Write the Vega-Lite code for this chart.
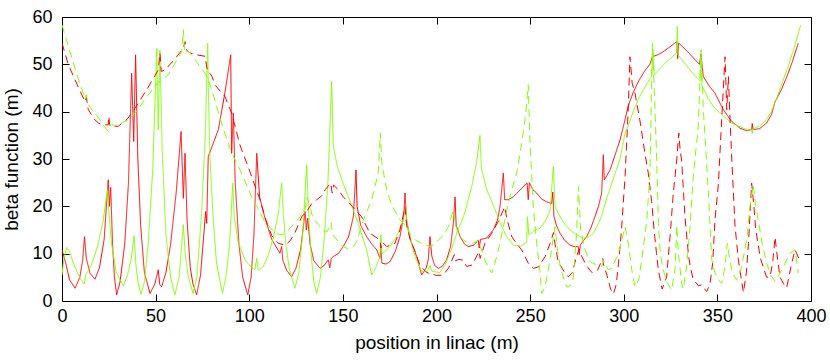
{
"$schema": "https://vega.github.io/schema/vega-lite/v6.json",
"width": 749, "height": 284,
"autosize": {"type": "none"},
"padding": {"left": 62, "top": 17, "right": 19, "bottom": 62},
"background": "white",
"config": {
  "font": "Liberation Sans",
  "view": {"stroke": "#000000", "strokeWidth": 1},
  "axis": {"grid": false, "domain": false, "tickColor": "#000000", "tickWidth": 1, "labelColor": "#000000", "titleColor": "#000000", "labelFontSize": 18, "titleFontSize": 19, "titleFontWeight": "normal", "labelFlush": false, "labelOverlap": false}
},
"data": {"values": [
{"s":"rs","x":0,"y":10.8},{"s":"rs","x":2,"y":8},{"s":"rs","x":4,"y":4.5},{"s":"rs","x":7,"y":2.7},{"s":"rs","x":9.5,"y":5},{"s":"rs","x":11,"y":8.5},{"s":"rs","x":12,"y":13.6},{"s":"rs","x":13,"y":9},{"s":"rs","x":15,"y":5.8},{"s":"rs","x":17.6,"y":4.6},{"s":"rs","x":20,"y":7},{"s":"rs","x":22.5,"y":13},{"s":"rs","x":24.7,"y":25.6},{"s":"rs","x":25.3,"y":20},{"s":"rs","x":26,"y":24},{"s":"rs","x":27,"y":12},{"s":"rs","x":28,"y":5},{"s":"rs","x":29.2,"y":1.3},{"s":"rs","x":31,"y":4},{"s":"rs","x":33.5,"y":12},{"s":"rs","x":35.5,"y":25},{"s":"rs","x":37.2,"y":48.1},{"s":"rs","x":38.3,"y":33.7},{"s":"rs","x":39.3,"y":52},{"s":"rs","x":40.5,"y":30},{"s":"rs","x":42,"y":16},{"s":"rs","x":44,"y":6},{"s":"rs","x":47,"y":1.6},{"s":"rs","x":49.5,"y":3.5},{"s":"rs","x":51.4,"y":6.6},{"s":"rs","x":52.2,"y":3.5},{"s":"rs","x":53.2,"y":3},{"s":"rs","x":55.5,"y":6},{"s":"rs","x":58,"y":12},{"s":"rs","x":61,"y":23},{"s":"rs","x":63.6,"y":35.8},{"s":"rs","x":64.8,"y":21.7},{"s":"rs","x":65.7,"y":31.2},{"s":"rs","x":66.8,"y":17},{"s":"rs","x":68.5,"y":7},{"s":"rs","x":70,"y":3.5},{"s":"rs","x":71.9,"y":1.3},{"s":"rs","x":74,"y":5.5},{"s":"rs","x":76.7,"y":18.9},{"s":"rs","x":77.3,"y":16.4},{"s":"rs","x":78.1,"y":30.5},{"s":"rs","x":83.5,"y":36.2},{"s":"rs","x":87,"y":44},{"s":"rs","x":90.1,"y":52},{"s":"rs","x":90.6,"y":31.2},{"s":"rs","x":91.5,"y":39.7},{"s":"rs","x":92.5,"y":25},{"s":"rs","x":94.5,"y":12},{"s":"rs","x":96.5,"y":5},{"s":"rs","x":99.2,"y":1.3},{"s":"rs","x":101,"y":5},{"s":"rs","x":102.5,"y":14},{"s":"rs","x":104,"y":31.2},{"s":"rs","x":105.5,"y":22},{"s":"rs","x":108.4,"y":17.5},{"s":"rs","x":112,"y":13},{"s":"rs","x":116.4,"y":10.1},{"s":"rs","x":117.3,"y":11.5},{"s":"rs","x":118,"y":8.5},{"s":"rs","x":120,"y":6.5},{"s":"rs","x":122.6,"y":5.1},{"s":"rs","x":125,"y":7},{"s":"rs","x":127.5,"y":11},{"s":"rs","x":129.8,"y":18.9},{"s":"rs","x":130.5,"y":15},{"s":"rs","x":131.2,"y":17.5},{"s":"rs","x":132.5,"y":12},{"s":"rs","x":134.5,"y":8.5},{"s":"rs","x":137.8,"y":6.9},{"s":"rs","x":140,"y":7.5},{"s":"rs","x":142.2,"y":8.7},{"s":"rs","x":143,"y":7},{"s":"rs","x":143.8,"y":9},{"s":"rs","x":144.9,"y":9.4},{"s":"rs","x":147.5,"y":10},{"s":"rs","x":150.2,"y":11.5},{"s":"rs","x":153,"y":13.5},{"s":"rs","x":155.6,"y":17.8},{"s":"rs","x":157,"y":27.7},{"s":"rs","x":157.6,"y":20},{"s":"rs","x":159.5,"y":16},{"s":"rs","x":162.7,"y":13.6},{"s":"rs","x":165.5,"y":12},{"s":"rs","x":168.1,"y":10.8},{"s":"rs","x":169.8,"y":9},{"s":"rs","x":170.3,"y":11.5},{"s":"rs","x":170.8,"y":8},{"s":"rs","x":173,"y":7.8},{"s":"rs","x":175.2,"y":8.3},{"s":"rs","x":178,"y":10.5},{"s":"rs","x":180.5,"y":13.6},{"s":"rs","x":182.5,"y":18},{"s":"rs","x":183.2,"y":22.8},{"s":"rs","x":184,"y":17},{"s":"rs","x":186,"y":13},{"s":"rs","x":189.4,"y":9.4},{"s":"rs","x":192.1,"y":5.5},{"s":"rs","x":194.5,"y":7},{"s":"rs","x":195.6,"y":8.7},{"s":"rs","x":196.5,"y":13.6},{"s":"rs","x":197.5,"y":9.5},{"s":"rs","x":199,"y":7.5},{"s":"rs","x":201,"y":6.9},{"s":"rs","x":203,"y":7.3},{"s":"rs","x":205.4,"y":8.7},{"s":"rs","x":207.5,"y":11.5},{"s":"rs","x":209,"y":16.4},{"s":"rs","x":209.9,"y":22},{"s":"rs","x":210.5,"y":16},{"s":"rs","x":212.6,"y":13.6},{"s":"rs","x":215,"y":12},{"s":"rs","x":217,"y":11.5},{"s":"rs","x":220,"y":11.8},{"s":"rs","x":222.3,"y":12.9},{"s":"rs","x":222.8,"y":11.2},{"s":"rs","x":223.5,"y":13},{"s":"rs","x":226.8,"y":13.3},{"s":"rs","x":230.3,"y":15},{"s":"rs","x":232.5,"y":17},{"s":"rs","x":233.9,"y":19.9},{"s":"rs","x":235.7,"y":27},{"s":"rs","x":236.4,"y":21.4},{"s":"rs","x":238.5,"y":21.4},{"s":"rs","x":241,"y":22},{"s":"rs","x":244,"y":23.2},{"s":"rs","x":246.4,"y":24.2},{"s":"rs","x":248.4,"y":24.9},{"s":"rs","x":249,"y":21.4},{"s":"rs","x":249.6,"y":25},{"s":"rs","x":251.5,"y":23.5},{"s":"rs","x":253.5,"y":22.8},{"s":"rs","x":256,"y":21.6},{"s":"rs","x":258.5,"y":21},{"s":"rs","x":261.5,"y":20.6},{"s":"rs","x":262.1,"y":23},{"s":"rs","x":262.7,"y":18},{"s":"rs","x":264,"y":16},{"s":"rs","x":266,"y":14.3},{"s":"rs","x":268.5,"y":12.8},{"s":"rs","x":271.3,"y":11.8},{"s":"rs","x":273.5,"y":11.5},{"s":"rs","x":275.7,"y":11.5},{"s":"rs","x":276.2,"y":9.8},{"s":"rs","x":276.8,"y":11.8},{"s":"rs","x":278,"y":12.5},{"s":"rs","x":280.2,"y":13.6},{"s":"rs","x":282.5,"y":15.5},{"s":"rs","x":284.6,"y":17.8},{"s":"rs","x":286.5,"y":20},{"s":"rs","x":288.2,"y":22.8},{"s":"rs","x":289.1,"y":30.9},{"s":"rs","x":289.6,"y":25.6},{"s":"rs","x":291,"y":26.5},{"s":"rs","x":292.7,"y":27.7},{"s":"rs","x":295.5,"y":31},{"s":"rs","x":298,"y":34},{"s":"rs","x":300,"y":37.2},{"s":"rs","x":302.4,"y":41.2},{"s":"rs","x":305,"y":44},{"s":"rs","x":308,"y":46.5},{"s":"rs","x":311,"y":48.5},{"s":"rs","x":314,"y":50},{"s":"rs","x":315.3,"y":51.6},{"s":"rs","x":318,"y":52},{"s":"rs","x":320.5,"y":52.5},{"s":"rs","x":324,"y":53.5},{"s":"rs","x":328.3,"y":54.8},{"s":"rs","x":328.8,"y":51.2},{"s":"rs","x":329.3,"y":54.5},{"s":"rs","x":332,"y":53.5},{"s":"rs","x":335,"y":52.3},{"s":"rs","x":338,"y":51},{"s":"rs","x":340.5,"y":50},{"s":"rs","x":341.2,"y":52.2},{"s":"rs","x":342.5,"y":47.4},{"s":"rs","x":345.5,"y":45.5},{"s":"rs","x":348.7,"y":43.9},{"s":"rs","x":353.2,"y":40.4},{"s":"rs","x":357.5,"y":38},{"s":"rs","x":362.1,"y":36.5},{"s":"rs","x":365.5,"y":36},{"s":"rs","x":368.3,"y":36.2},{"s":"rs","x":368.6,"y":37.5},{"s":"rs","x":369.1,"y":36.2},{"s":"rs","x":372.5,"y":36.4},{"s":"rs","x":376.3,"y":37.6},{"s":"rs","x":379,"y":39.5},{"s":"rs","x":380.8,"y":42.1},{"s":"rs","x":381.5,"y":42.6},{"s":"rs","x":384,"y":44.5},{"s":"rs","x":387,"y":47.3},{"s":"rs","x":390,"y":50.5},{"s":"rs","x":393.2,"y":54.5},
{"s":"gs","x":0,"y":5.5},{"s":"gs","x":1,"y":9},{"s":"gs","x":2.5,"y":11.3},{"s":"gs","x":4,"y":10.5},{"s":"gs","x":6,"y":8},{"s":"gs","x":9.6,"y":4.8},{"s":"gs","x":11.9,"y":3.6},{"s":"gs","x":12.6,"y":5.5},{"s":"gs","x":13.2,"y":5.8},{"s":"gs","x":16,"y":8},{"s":"gs","x":19,"y":11.5},{"s":"gs","x":22,"y":17},{"s":"gs","x":24.2,"y":23.5},{"s":"gs","x":25,"y":19},{"s":"gs","x":26.5,"y":12},{"s":"gs","x":29,"y":6},{"s":"gs","x":32.8,"y":3.2},{"s":"gs","x":35,"y":5.5},{"s":"gs","x":37,"y":9},{"s":"gs","x":38.5,"y":13.8},{"s":"gs","x":39.5,"y":7.5},{"s":"gs","x":40.8,"y":3.5},{"s":"gs","x":42.2,"y":1.4},{"s":"gs","x":44,"y":4},{"s":"gs","x":46,"y":12},{"s":"gs","x":48.5,"y":28},{"s":"gs","x":50.6,"y":53.4},{"s":"gs","x":51.4,"y":36.2},{"s":"gs","x":52.3,"y":53},{"s":"gs","x":53.5,"y":32},{"s":"gs","x":55.5,"y":14},{"s":"gs","x":58,"y":5},{"s":"gs","x":60.3,"y":1.3},{"s":"gs","x":62.5,"y":5},{"s":"gs","x":64.8,"y":16.1},{"s":"gs","x":65.8,"y":10},{"s":"gs","x":67.5,"y":5},{"s":"gs","x":70,"y":1.6},{"s":"gs","x":72,"y":5},{"s":"gs","x":74.5,"y":18},{"s":"gs","x":76.5,"y":35},{"s":"gs","x":77.8,"y":54.5},{"s":"gs","x":78.3,"y":42},{"s":"gs","x":79,"y":30.5},{"s":"gs","x":80.5,"y":19},{"s":"gs","x":82.5,"y":8},{"s":"gs","x":85.7,"y":1.6},{"s":"gs","x":87.5,"y":5},{"s":"gs","x":89.5,"y":12},{"s":"gs","x":91.2,"y":24.9},{"s":"gs","x":92,"y":18},{"s":"gs","x":94,"y":12.5},{"s":"gs","x":97.7,"y":8.7},{"s":"gs","x":100.5,"y":7.4},{"s":"gs","x":103,"y":6.6},{"s":"gs","x":104,"y":9},{"s":"gs","x":104.8,"y":6.5},{"s":"gs","x":107.5,"y":7.3},{"s":"gs","x":110,"y":9.5},{"s":"gs","x":113,"y":13.5},{"s":"gs","x":115.5,"y":18.5},{"s":"gs","x":117.3,"y":24.9},{"s":"gs","x":118.3,"y":18},{"s":"gs","x":119.5,"y":12},{"s":"gs","x":121.5,"y":6.5},{"s":"gs","x":124.4,"y":2.7},{"s":"gs","x":126.5,"y":6},{"s":"gs","x":128.5,"y":14},{"s":"gs","x":130.7,"y":28.8},{"s":"gs","x":131.5,"y":20},{"s":"gs","x":133,"y":10},{"s":"gs","x":134.5,"y":4},{"s":"gs","x":136,"y":1.6},{"s":"gs","x":138,"y":5},{"s":"gs","x":140,"y":13},{"s":"gs","x":142,"y":25},{"s":"gs","x":144,"y":46.4},{"s":"gs","x":144.9,"y":32.6},{"s":"gs","x":147,"y":28.5},{"s":"gs","x":150,"y":25},{"s":"gs","x":152.9,"y":22},{"s":"gs","x":155.6,"y":19.2},{"s":"gs","x":158.2,"y":16.4},{"s":"gs","x":160.5,"y":13.5},{"s":"gs","x":162.7,"y":10.8},{"s":"gs","x":165.4,"y":5.5},{"s":"gs","x":167.5,"y":7},{"s":"gs","x":169.8,"y":9.4},{"s":"gs","x":170.3,"y":14},{"s":"gs","x":170.9,"y":10},{"s":"gs","x":173.4,"y":10.8},{"s":"gs","x":176,"y":12},{"s":"gs","x":178.7,"y":13.6},{"s":"gs","x":181.5,"y":16.5},{"s":"gs","x":183.5,"y":19.8},{"s":"gs","x":184.5,"y":16},{"s":"gs","x":186.5,"y":12.5},{"s":"gs","x":188.5,"y":9.4},{"s":"gs","x":192.1,"y":6.2},{"s":"gs","x":195,"y":6.2},{"s":"gs","x":196.5,"y":7.5},{"s":"gs","x":197.5,"y":6.3},{"s":"gs","x":199,"y":6.2},{"s":"gs","x":201.9,"y":6},{"s":"gs","x":205,"y":8},{"s":"gs","x":208,"y":11},{"s":"gs","x":211,"y":14.5},{"s":"gs","x":215,"y":18.5},{"s":"gs","x":219,"y":24.5},{"s":"gs","x":221.5,"y":29.5},{"s":"gs","x":223.2,"y":35},{"s":"gs","x":224,"y":28},{"s":"gs","x":226.8,"y":23.5},{"s":"gs","x":229.5,"y":21},{"s":"gs","x":232.1,"y":18.5},{"s":"gs","x":234.5,"y":16},{"s":"gs","x":237.5,"y":13.6},{"s":"gs","x":241,"y":11.8},{"s":"gs","x":245,"y":11.6},{"s":"gs","x":248.1,"y":12.4},{"s":"gs","x":248.6,"y":17.8},{"s":"gs","x":249.3,"y":14},{"s":"gs","x":252,"y":14.8},{"s":"gs","x":255.3,"y":15.4},{"s":"gs","x":258,"y":16.8},{"s":"gs","x":260.6,"y":19},{"s":"gs","x":262.4,"y":28.4},{"s":"gs","x":263.3,"y":19.9},{"s":"gs","x":266,"y":17.8},{"s":"gs","x":268.5,"y":16.3},{"s":"gs","x":271.3,"y":15},{"s":"gs","x":274.8,"y":14},{"s":"gs","x":278.4,"y":13.3},{"s":"gs","x":281,"y":13.5},{"s":"gs","x":283.7,"y":14.3},{"s":"gs","x":286,"y":16},{"s":"gs","x":288.2,"y":18},{"s":"gs","x":290.9,"y":21.7},{"s":"gs","x":295,"y":26.5},{"s":"gs","x":298,"y":30},{"s":"gs","x":300.7,"y":35.5},{"s":"gs","x":302.4,"y":37},{"s":"gs","x":305,"y":40},{"s":"gs","x":308,"y":42.8},{"s":"gs","x":311,"y":45},{"s":"gs","x":314.9,"y":47.5},{"s":"gs","x":315.6,"y":53},{"s":"gs","x":316.3,"y":47.8},{"s":"gs","x":319,"y":49},{"s":"gs","x":322,"y":50.2},{"s":"gs","x":325,"y":51.3},{"s":"gs","x":328.2,"y":52.4},{"s":"gs","x":328.6,"y":58},{"s":"gs","x":329,"y":52},{"s":"gs","x":332,"y":50.5},{"s":"gs","x":335,"y":49},{"s":"gs","x":338,"y":47.6},{"s":"gs","x":340.7,"y":46.5},{"s":"gs","x":341.2,"y":52},{"s":"gs","x":341.8,"y":45.5},{"s":"gs","x":345,"y":42.8},{"s":"gs","x":348.7,"y":40.7},{"s":"gs","x":353.2,"y":39.1},{"s":"gs","x":357.5,"y":37.6},{"s":"gs","x":362.1,"y":36.8},{"s":"gs","x":366,"y":36.2},{"s":"gs","x":368.3,"y":36.3},{"s":"gs","x":368.6,"y":35.4},{"s":"gs","x":369,"y":36.3},{"s":"gs","x":372.5,"y":37},{"s":"gs","x":376.3,"y":38.3},{"s":"gs","x":379,"y":40.2},{"s":"gs","x":381.7,"y":42.9},{"s":"gs","x":382.3,"y":43.5},{"s":"gs","x":385,"y":46.5},{"s":"gs","x":388,"y":49.8},{"s":"gs","x":391,"y":53.5},{"s":"gs","x":394.5,"y":58.3},
{"s":"rd","x":0,"y":54.5},{"s":"rd","x":3.4,"y":49.9},{"s":"rd","x":8,"y":45.8},{"s":"rd","x":12.3,"y":42.1},{"s":"rd","x":13,"y":43},{"s":"rd","x":14,"y":40.5},{"s":"rd","x":17,"y":38.5},{"s":"rd","x":19.4,"y":37.6},{"s":"rd","x":22,"y":37.2},{"s":"rd","x":24.7,"y":37.2},{"s":"rd","x":25,"y":39},{"s":"rd","x":25.5,"y":37},{"s":"rd","x":30,"y":36.9},{"s":"rd","x":35,"y":38.5},{"s":"rd","x":39,"y":40.7},{"s":"rd","x":45,"y":44.5},{"s":"rd","x":51.4,"y":48.8},{"s":"rd","x":52.3,"y":52.4},{"s":"rd","x":53,"y":48.5},{"s":"rd","x":55,"y":48.8},{"s":"rd","x":60,"y":51},{"s":"rd","x":64.8,"y":53.4},{"s":"rd","x":65.7,"y":54.8},{"s":"rd","x":66.5,"y":53},{"s":"rd","x":68.4,"y":52.4},{"s":"rd","x":72,"y":52},{"s":"rd","x":76.4,"y":51.7},{"s":"rd","x":77.5,"y":49},{"s":"rd","x":80,"y":47.5},{"s":"rd","x":82,"y":45.5},{"s":"rd","x":87,"y":43.2},{"s":"rd","x":90.6,"y":39.7},{"s":"rd","x":95,"y":33},{"s":"rd","x":101.3,"y":26.3},{"s":"rd","x":105.7,"y":21.4},{"s":"rd","x":109,"y":17},{"s":"rd","x":112,"y":13.8},{"s":"rd","x":115.5,"y":12.2},{"s":"rd","x":119.1,"y":11.8},{"s":"rd","x":122,"y":12.8},{"s":"rd","x":124.5,"y":14.5},{"s":"rd","x":128,"y":17.8},{"s":"rd","x":130.7,"y":18.9},{"s":"rd","x":133.4,"y":20.6},{"s":"rd","x":136,"y":21.4},{"s":"rd","x":138.7,"y":22.2},{"s":"rd","x":140.5,"y":23.5},{"s":"rd","x":143.5,"y":24.9},{"s":"rd","x":144.3,"y":22.8},{"s":"rd","x":145,"y":24.5},{"s":"rd","x":147.6,"y":23.5},{"s":"rd","x":150.2,"y":22},{"s":"rd","x":155,"y":20},{"s":"rd","x":160,"y":17.8},{"s":"rd","x":164.5,"y":14.3},{"s":"rd","x":169.8,"y":12.9},{"s":"rd","x":170.3,"y":11.2},{"s":"rd","x":171,"y":12.5},{"s":"rd","x":173.4,"y":11.5},{"s":"rd","x":177.8,"y":12.2},{"s":"rd","x":180.5,"y":15},{"s":"rd","x":183.2,"y":19.9},{"s":"rd","x":184,"y":16},{"s":"rd","x":186,"y":13},{"s":"rd","x":188.5,"y":10.5},{"s":"rd","x":191.2,"y":7.5},{"s":"rd","x":194.8,"y":6},{"s":"rd","x":196.5,"y":5.8},{"s":"rd","x":200,"y":5.4},{"s":"rd","x":203.6,"y":5.5},{"s":"rd","x":206.5,"y":7},{"s":"rd","x":209.5,"y":9.8},{"s":"rd","x":210.2,"y":8.5},{"s":"rd","x":212,"y":8.8},{"s":"rd","x":214.3,"y":8.6},{"s":"rd","x":216.1,"y":7.3},{"s":"rd","x":219,"y":7.6},{"s":"rd","x":222.8,"y":10.5},{"s":"rd","x":223.3,"y":9},{"s":"rd","x":225.9,"y":12.2},{"s":"rd","x":229.5,"y":14.3},{"s":"rd","x":233,"y":16.8},{"s":"rd","x":236.4,"y":19.9},{"s":"rd","x":237.5,"y":17.5},{"s":"rd","x":240.2,"y":13.6},{"s":"rd","x":243,"y":12},{"s":"rd","x":245.5,"y":10.8},{"s":"rd","x":249,"y":8},{"s":"rd","x":251.7,"y":6.9},{"s":"rd","x":254.5,"y":7.2},{"s":"rd","x":258,"y":9.4},{"s":"rd","x":261,"y":12.5},{"s":"rd","x":262.5,"y":14.5},{"s":"rd","x":263.3,"y":12},{"s":"rd","x":265,"y":8.3},{"s":"rd","x":268.6,"y":5.9},{"s":"rd","x":270.4,"y":5.1},{"s":"rd","x":272.5,"y":6},{"s":"rd","x":274.8,"y":9.4},{"s":"rd","x":276.2,"y":11},{"s":"rd","x":277.5,"y":9.5},{"s":"rd","x":280,"y":7.5},{"s":"rd","x":283,"y":6},{"s":"rd","x":286,"y":6.5},{"s":"rd","x":288.8,"y":9},{"s":"rd","x":289.3,"y":7.5},{"s":"rd","x":291,"y":5.5},{"s":"rd","x":293,"y":2.5},{"s":"rd","x":294.5,"y":1.5},{"s":"rd","x":296,"y":3.5},{"s":"rd","x":297.2,"y":8},{"s":"rd","x":298.8,"y":15},{"s":"rd","x":300.7,"y":26.3},{"s":"rd","x":302.4,"y":40.4},{"s":"rd","x":303.3,"y":51.6},{"s":"rd","x":304.5,"y":46},{"s":"rd","x":306,"y":43.9},{"s":"rd","x":308.7,"y":38},{"s":"rd","x":311.3,"y":31.2},{"s":"rd","x":313.1,"y":27},{"s":"rd","x":314.9,"y":21},{"s":"rd","x":316.2,"y":15},{"s":"rd","x":317.5,"y":10},{"s":"rd","x":318.5,"y":6.5},{"s":"rd","x":320.5,"y":2.5},{"s":"rd","x":322.9,"y":5.1},{"s":"rd","x":324.8,"y":14},{"s":"rd","x":326.5,"y":23},{"s":"rd","x":328.3,"y":29.8},{"s":"rd","x":329.4,"y":35.5},{"s":"rd","x":330.2,"y":31.5},{"s":"rd","x":330.9,"y":29.8},{"s":"rd","x":332.7,"y":17.8},{"s":"rd","x":334.5,"y":10},{"s":"rd","x":335.4,"y":7.5},{"s":"rd","x":337.1,"y":4.5},{"s":"rd","x":340,"y":3.2},{"s":"rd","x":341.5,"y":3.4},{"s":"rd","x":344.3,"y":2},{"s":"rd","x":346,"y":3.5},{"s":"rd","x":347.5,"y":8},{"s":"rd","x":348.7,"y":17},{"s":"rd","x":350.5,"y":24.5},{"s":"rd","x":351.4,"y":31.5},{"s":"rd","x":353.2,"y":45},{"s":"rd","x":354.1,"y":51.6},{"s":"rd","x":355,"y":40.4},{"s":"rd","x":355.9,"y":47.4},{"s":"rd","x":356.8,"y":38},{"s":"rd","x":357.7,"y":30},{"s":"rd","x":359.4,"y":16},{"s":"rd","x":361.2,"y":8.7},{"s":"rd","x":363.9,"y":1.8},{"s":"rd","x":365.5,"y":6},{"s":"rd","x":366.6,"y":12.2},{"s":"rd","x":368.3,"y":24.9},{"s":"rd","x":369.5,"y":20},{"s":"rd","x":370.5,"y":15},{"s":"rd","x":373,"y":9},{"s":"rd","x":376.3,"y":5},{"s":"rd","x":378.1,"y":5.1},{"s":"rd","x":379.5,"y":8},{"s":"rd","x":380.8,"y":13.5},{"s":"rd","x":381.5,"y":11},{"s":"rd","x":383.4,"y":5.1},{"s":"rd","x":385.5,"y":3.5},{"s":"rd","x":387,"y":2.8},{"s":"rd","x":389.7,"y":8},{"s":"rd","x":391.5,"y":10.8},{"s":"rd","x":393.5,"y":9},
{"s":"gd","x":0,"y":58.3},{"s":"gd","x":3.4,"y":53.8},{"s":"gd","x":8,"y":47.8},{"s":"gd","x":12.3,"y":42.8},{"s":"gd","x":13,"y":43.6},{"s":"gd","x":14,"y":41.5},{"s":"gd","x":17,"y":39.8},{"s":"gd","x":19.4,"y":38.8},{"s":"gd","x":22,"y":37.2},{"s":"gd","x":24.7,"y":35.8},{"s":"gd","x":25.2,"y":37.2},{"s":"gd","x":28,"y":37.2},{"s":"gd","x":30,"y":37.2},{"s":"gd","x":35,"y":38.2},{"s":"gd","x":39,"y":39.7},{"s":"gd","x":45,"y":43},{"s":"gd","x":49.7,"y":45.3},{"s":"gd","x":51.5,"y":46.3},{"s":"gd","x":53,"y":46.5},{"s":"gd","x":56.8,"y":47.8},{"s":"gd","x":60,"y":50},{"s":"gd","x":63.9,"y":52.7},{"s":"gd","x":64.8,"y":57.3},{"s":"gd","x":65.5,"y":52.4},{"s":"gd","x":67.5,"y":52.8},{"s":"gd","x":71,"y":51},{"s":"gd","x":76.4,"y":48.1},{"s":"gd","x":78,"y":47},{"s":"gd","x":82,"y":42},{"s":"gd","x":86,"y":36.5},{"s":"gd","x":90,"y":32},{"s":"gd","x":91,"y":31},{"s":"gd","x":95,"y":27.8},{"s":"gd","x":101.3,"y":22},{"s":"gd","x":104,"y":20},{"s":"gd","x":108,"y":17},{"s":"gd","x":113.8,"y":14.3},{"s":"gd","x":117.3,"y":14},{"s":"gd","x":119,"y":14.3},{"s":"gd","x":124.4,"y":16.4},{"s":"gd","x":129.8,"y":19.2},{"s":"gd","x":130.7,"y":22},{"s":"gd","x":132.5,"y":19.9},{"s":"gd","x":134,"y":17.5},{"s":"gd","x":136.9,"y":16.2},{"s":"gd","x":139.5,"y":15},{"s":"gd","x":141.5,"y":14.6},{"s":"gd","x":143.8,"y":16.5},{"s":"gd","x":144.5,"y":14},{"s":"gd","x":147,"y":12.8},{"s":"gd","x":150.2,"y":11.5},{"s":"gd","x":153,"y":11},{"s":"gd","x":155.5,"y":11.5},{"s":"gd","x":157.3,"y":12.5},{"s":"gd","x":160.9,"y":17.1},{"s":"gd","x":165.4,"y":21.4},{"s":"gd","x":168.9,"y":27},{"s":"gd","x":170,"y":35.5},{"s":"gd","x":170.8,"y":29},{"s":"gd","x":173.4,"y":23.5},{"s":"gd","x":176,"y":20.3},{"s":"gd","x":180.5,"y":17.1},{"s":"gd","x":183.5,"y":16},{"s":"gd","x":186,"y":14},{"s":"gd","x":189,"y":12.8},{"s":"gd","x":192.1,"y":12.2},{"s":"gd","x":196.5,"y":11.5},{"s":"gd","x":199,"y":12},{"s":"gd","x":201,"y":12.9},{"s":"gd","x":204,"y":14},{"s":"gd","x":206.3,"y":15.7},{"s":"gd","x":209,"y":19.2},{"s":"gd","x":210.2,"y":16},{"s":"gd","x":212,"y":14},{"s":"gd","x":214,"y":13},{"s":"gd","x":217,"y":12.2},{"s":"gd","x":220,"y":12.3},{"s":"gd","x":222.6,"y":12.9},{"s":"gd","x":223.3,"y":11.5},{"s":"gd","x":224.1,"y":10.8},{"s":"gd","x":226.5,"y":8},{"s":"gd","x":229.5,"y":5.9},{"s":"gd","x":231.2,"y":8},{"s":"gd","x":233.5,"y":11.5},{"s":"gd","x":235.7,"y":15.7},{"s":"gd","x":236.4,"y":17},{"s":"gd","x":238,"y":20},{"s":"gd","x":240.2,"y":23.5},{"s":"gd","x":242.8,"y":27},{"s":"gd","x":245.5,"y":33.3},{"s":"gd","x":247.5,"y":39},{"s":"gd","x":249,"y":45.7},{"s":"gd","x":250,"y":33},{"s":"gd","x":251.7,"y":19.9},{"s":"gd","x":253.5,"y":12.2},{"s":"gd","x":255.3,"y":6},{"s":"gd","x":256.2,"y":1.6},{"s":"gd","x":258,"y":3},{"s":"gd","x":259.7,"y":6.6},{"s":"gd","x":261.5,"y":11},{"s":"gd","x":263.3,"y":15.7},{"s":"gd","x":264.5,"y":11},{"s":"gd","x":266.5,"y":6.5},{"s":"gd","x":269.5,"y":3},{"s":"gd","x":271.5,"y":3.2},{"s":"gd","x":273.1,"y":5},{"s":"gd","x":274.8,"y":14.3},{"s":"gd","x":275.8,"y":24.2},{"s":"gd","x":277,"y":15},{"s":"gd","x":279.3,"y":10.8},{"s":"gd","x":282,"y":8.3},{"s":"gd","x":284.6,"y":7.8},{"s":"gd","x":288.2,"y":7.3},{"s":"gd","x":289.3,"y":8.5},{"s":"gd","x":291.7,"y":6.6},{"s":"gd","x":293.6,"y":6.9},{"s":"gd","x":297.2,"y":10.1},{"s":"gd","x":300.7,"y":15.7},{"s":"gd","x":302.5,"y":12},{"s":"gd","x":304.5,"y":6},{"s":"gd","x":306,"y":3},{"s":"gd","x":308,"y":4.5},{"s":"gd","x":309.6,"y":8.7},{"s":"gd","x":312.3,"y":17},{"s":"gd","x":314,"y":27},{"s":"gd","x":315.3,"y":54.5},{"s":"gd","x":316.7,"y":40.4},{"s":"gd","x":317.6,"y":29.8},{"s":"gd","x":318.5,"y":16.4},{"s":"gd","x":319.5,"y":10},{"s":"gd","x":321.1,"y":6.6},{"s":"gd","x":323,"y":4},{"s":"gd","x":325.6,"y":2.3},{"s":"gd","x":327.5,"y":7},{"s":"gd","x":328.3,"y":16},{"s":"gd","x":329.2,"y":10},{"s":"gd","x":330.9,"y":3.7},{"s":"gd","x":331.8,"y":2.5},{"s":"gd","x":333.5,"y":7},{"s":"gd","x":335.4,"y":15.7},{"s":"gd","x":337.1,"y":26.3},{"s":"gd","x":339.8,"y":37},{"s":"gd","x":341.3,"y":53.1},{"s":"gd","x":342.5,"y":40.4},{"s":"gd","x":344,"y":31},{"s":"gd","x":345.2,"y":22.8},{"s":"gd","x":347,"y":8.7},{"s":"gd","x":348.7,"y":6},{"s":"gd","x":350.5,"y":4.5},{"s":"gd","x":352.3,"y":3.7},{"s":"gd","x":354,"y":7},{"s":"gd","x":355.3,"y":12.2},{"s":"gd","x":356.5,"y":9},{"s":"gd","x":358,"y":6},{"s":"gd","x":360.3,"y":4.4},{"s":"gd","x":362.5,"y":6.5},{"s":"gd","x":365.7,"y":12.9},{"s":"gd","x":367.4,"y":19.9},{"s":"gd","x":369.2,"y":24.5},{"s":"gd","x":370.5,"y":20},{"s":"gd","x":372.1,"y":16.4},{"s":"gd","x":374,"y":12},{"s":"gd","x":376.3,"y":8},{"s":"gd","x":378.5,"y":5.5},{"s":"gd","x":380.8,"y":4.1},{"s":"gd","x":383,"y":5.5},{"s":"gd","x":385.3,"y":7.3},{"s":"gd","x":388.8,"y":10.1},{"s":"gd","x":391.5,"y":10.8},{"s":"gd","x":393.2,"y":5.9}
]},
"layer": [
  {
    "mark": {"type": "line", "strokeWidth": 1, "clip": true},
    "encoding": {
      "x": {"field": "x", "type": "quantitative", "scale": {"domain": [0, 400], "nice": false, "zero": false},
            "axis": {"title": "position in linac (m)", "values": [0,50,100,150,200,250,300,350,400], "tickSize": -7, "labelPadding": 13, "titlePadding": 8}},
      "y": {"field": "y", "type": "quantitative", "scale": {"domain": [0, 60], "nice": false},
            "axis": {"title": "beta function (m)", "values": [0,10,20,30,40,50,60], "tickSize": -7, "labelPadding": 17, "titlePadding": 10}},
      "color": {"field": "s", "type": "nominal", "scale": {"domain": ["rs","rd","gs","gd"], "range": ["#ff0000","#ff0000","#80ff00","#80ff00"]}, "legend": null},
      "strokeDash": {"field": "s", "type": "nominal", "scale": {"domain": ["rs","rd","gs","gd"], "range": [[1,0],[8,5],[1,0],[8,5]]}, "legend": null}
    }
  },
  {
    "mark": {"type": "point", "opacity": 0},
    "encoding": {
      "x": {"field": "x", "type": "quantitative", "axis": {"orient": "top", "labels": false, "title": null, "values": [0,50,100,150,200,250,300,350,400], "tickSize": -7}},
      "y": {"field": "y", "type": "quantitative", "axis": {"orient": "right", "labels": false, "title": null, "values": [0,10,20,30,40,50,60], "tickSize": -7}}
    }
  }
],
"resolve": {"axis": {"x": "independent", "y": "independent"}}
}
